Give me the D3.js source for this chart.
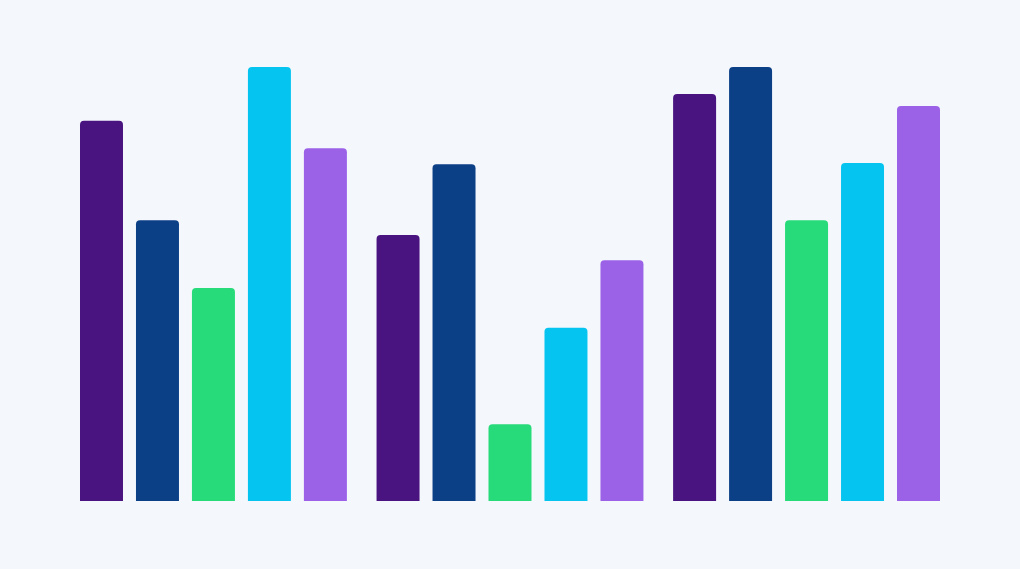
<!DOCTYPE html>
<html><head><meta charset="utf-8">
<script src="https://cdn.jsdelivr.net/npm/d3@7/dist/d3.min.js"></script>
<style>html,body{margin:0;padding:0;background:#f4f7fc;}svg{display:block;}</style>
</head><body><svg id="c" width="1020" height="569"></svg>
<script>
const groups = ["A", "B", "C"];
const seriesNames = ["s1", "s2", "s3", "s4", "s5"];
const seriesColors = ["#4a1480", "#0b3f86", "#27db7a", "#05c5f0", "#9b62e8"];
const s1 = [87.6, 61.3, 93.8];
const s2 = [64.7, 77.6, 100];
const s3 = [49.1, 17.7, 64.7];
const s4 = [100, 39.9, 77.9];
const s5 = [81.3, 55.5, 91.0];
const seriesValues = [s1, s2, s3, s4, s5];

const svg = d3.select("#c");
svg.append("rect").attr("width",1020).attr("height",569).attr("fill","#f4f7fc");

const x0 = d3.scaleBand().domain(groups).range([80, 940]).paddingInner(0.1).paddingOuter(0);
const x1 = d3.scaleBand().domain(seriesNames).range([0, x0.bandwidth()]).paddingInner(0.232).paddingOuter(0);
const y = d3.scaleLinear().domain([0, 100]).range([501, 67]);

function topRounded(x, yTop, w, h, r) {
  r = Math.min(r, w/2, h);
  return `M${x},${yTop+h}V${yTop+r}Q${x},${yTop} ${x+r},${yTop}H${x+w-r}Q${x+w},${yTop} ${x+w},${yTop+r}V${yTop+h}Z`;
}

const data = [];
groups.forEach((g, gi) => seriesNames.forEach((s, si) => data.push({g, s, v: seriesValues[si][gi], c: seriesColors[si]})));

svg.append("g").selectAll("path").data(data).join("path")
  .attr("d", d => topRounded(x0(d.g) + x1(d.s), y(d.v), x1.bandwidth(), y(0) - y(d.v), 4))
  .attr("fill", d => d.c);
</script></body></html>
